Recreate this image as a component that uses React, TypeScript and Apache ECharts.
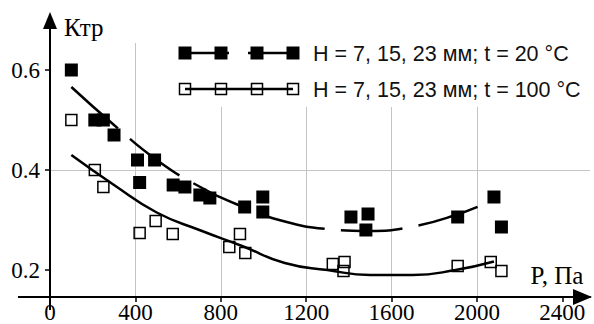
import React, { useEffect, useRef } from "react";
import * as echarts from "echarts";

// Measured points, t = 20 °C (filled squares)
const P20 = [100, 210, 250, 300, 410, 490, 420, 577, 632, 702, 749, 912, 997, 997, 1410, 1490, 1480, 1910, 2080, 2115];
const K20 = [0.6, 0.5, 0.5, 0.47, 0.42, 0.42, 0.375, 0.37, 0.366, 0.35, 0.344, 0.326, 0.346, 0.316, 0.306, 0.312, 0.28, 0.306, 0.346, 0.286];

// Measured points, t = 100 °C (hollow squares)
const P100 = [100, 210, 250, 420, 495, 575, 840, 890, 915, 1325, 1380, 1375, 1910, 2065, 2115];
const K100 = [0.5, 0.4, 0.366, 0.274, 0.298, 0.272, 0.246, 0.272, 0.234, 0.212, 0.216, 0.198, 0.208, 0.216, 0.198];

// Trend curves
const TREND20_P = [100, 300, 500, 700, 900, 1100, 1300, 1500, 1700, 1900, 2060];
const TREND20_K = [0.566, 0.49, 0.42, 0.367, 0.327, 0.297, 0.282, 0.278, 0.287, 0.31, 0.337];
const TREND100_P = [100, 300, 500, 700, 900, 1100, 1300, 1500, 1700, 1900, 2080];
const TREND100_K = [0.43, 0.37, 0.315, 0.28, 0.248, 0.214, 0.2, 0.19, 0.19, 0.2, 0.217];

const X_TICKS = [0, 400, 800, 1200, 1600, 2000, 2400];
const Y_TICKS = [0.2, 0.4, 0.6];

const LEGEND_20 = "H = 7, 15, 23 мм; t = 20 °C";
const LEGEND_100 = "H = 7, 15, 23 мм; t = 100 °C";
const Y_NAME = "Ктр";
const X_NAME = "P, Па";

const zip = (a: number[], b: number[]) => a.map((v, i) => [v, b[i]]);

export default function App() {
  const ref = useRef<HTMLDivElement>(null);
  useEffect(() => {
    if (!ref.current) return;
    const chart = echarts.init(ref.current, null, { renderer: "svg" });
    const serif = "Liberation Serif";
    const sans = "Liberation Sans";
    const gridColor = "#c4c4c4";
    const legendXs = [185, 221, 257, 293];
    const graphic: any[] = [
      // axis extensions & arrows
      { type: "line", shape: { x1: 18, y1: 297, x2: 50, y2: 297 }, style: { stroke: "#000", lineWidth: 2 }, z: 5 },
      { type: "line", shape: { x1: 50, y1: 297, x2: 50, y2: 310 }, style: { stroke: "#000", lineWidth: 2 }, z: 5 },
      { type: "line", shape: { x1: 50, y1: 44, x2: 50, y2: 26 }, style: { stroke: "#000", lineWidth: 2 }, z: 5 },
      { type: "polygon", shape: { points: [[50, 12], [43, 29], [57, 29]] }, style: { fill: "#000" }, z: 5 },
      { type: "polygon", shape: { points: [[592, 297], [573, 289], [573, 305]] }, style: { fill: "#000" }, z: 5 },
      { type: "text", x: 64, y: 27, style: { text: Y_NAME, font: `25px '${serif}'`, fill: "#000", verticalAlign: "middle" }, z: 5 },
      { type: "rect", shape: { x: 522, y: 260, width: 70, height: 26 }, style: { fill: "#fff" }, z: 4 },
      { type: "text", x: 557, y: 275, style: { text: X_NAME, font: `25px '${serif}'`, fill: "#000", align: "center", verticalAlign: "middle" }, z: 5 },
      // legend box
      { type: "rect", shape: { x: 164, y: 36, width: 430, height: 71 }, style: { fill: "#fff" }, z: 4 },
      { type: "line", shape: { x1: 185, y1: 53, x2: 229, y2: 53 }, style: { stroke: "#000", lineWidth: 2.5 }, z: 5 },
      { type: "line", shape: { x1: 248, y1: 53, x2: 293, y2: 53 }, style: { stroke: "#000", lineWidth: 2.5 }, z: 5 },
      { type: "line", shape: { x1: 185, y1: 89, x2: 293, y2: 89 }, style: { stroke: "#000", lineWidth: 2.5 }, z: 5 },
      ...legendXs.map((x) => ({ type: "rect", shape: { x: x - 6.5, y: 53 - 6.5, width: 13, height: 13 }, style: { fill: "#000" }, z: 6 })),
      ...legendXs.map((x) => ({ type: "rect", shape: { x: x - 5.5, y: 89 - 5.5, width: 11, height: 11 }, style: { fill: "none", stroke: "#000", lineWidth: 1.5 }, z: 6 })),
      { type: "text", x: 313, y: 54, style: { text: LEGEND_20, font: `21.5px '${sans}'`, fill: "#111", verticalAlign: "middle" }, z: 6 },
      { type: "text", x: 313, y: 90, style: { text: LEGEND_100, font: `21.5px '${sans}'`, fill: "#111", verticalAlign: "middle" }, z: 6 },
    ];
    chart.setOption({
      animation: false,
      grid: { left: 50, right: 4, top: 43, bottom: 27 },
      xAxis: {
        type: "value",
        min: 0,
        max: 2530,
        axisLine: { lineStyle: { color: "#000", width: 2 } },
        axisTick: { length: 5, lineStyle: { color: "#000", width: 1.5 }, customValues: X_TICKS },
        axisLabel: { customValues: X_TICKS, color: "#000", fontFamily: serif, fontSize: 23, margin: 4, formatter: (v: number) => String(v) },
        splitLine: { show: true, showMinLine: false, showMaxLine: false, lineStyle: { color: gridColor, width: 1 } },
      },
      yAxis: {
        type: "value",
        min: 0.146,
        max: 0.654,
        axisLine: { lineStyle: { color: "#000", width: 2 } },
        axisTick: { length: 5, lineStyle: { color: "#000", width: 1.5 }, customValues: Y_TICKS },
        axisLabel: { customValues: Y_TICKS, color: "#000", fontFamily: serif, fontSize: 23, margin: 10, formatter: (v: number) => v.toFixed(1) },
        splitLine: { show: true, showMinLine: false, showMaxLine: false, lineStyle: { color: gridColor, width: 1 } },
      },
      series: [
        {
          name: "trend20",
          type: "line",
          data: zip(TREND20_P, TREND20_K),
          smooth: true,
          showSymbol: false,
          lineStyle: { color: "#000", width: 2.5, type: [62, 16] },
          z: 3,
        },
        {
          name: "trend100",
          type: "line",
          data: zip(TREND100_P, TREND100_K),
          smooth: true,
          showSymbol: false,
          lineStyle: { color: "#000", width: 2.5 },
          z: 3,
        },
        {
          name: LEGEND_20,
          type: "scatter",
          data: zip(P20, K20),
          symbol: "rect",
          symbolSize: 13,
          itemStyle: { color: "#000", opacity: 1 },
          z: 4,
        },
        {
          name: LEGEND_100,
          type: "scatter",
          data: zip(P100, K100),
          symbol: "rect",
          symbolSize: 11,
          itemStyle: { color: "rgba(255,255,255,0)", borderColor: "#000", borderWidth: 1.5, opacity: 1 },
          z: 2,
        },
      ],
      graphic,
    });
    return () => chart.dispose();
  }, []);
  return <div ref={ref} style={{ position: "fixed", left: 0, top: 0, width: 594, height: 324, background: "#fff" }} />;
}
